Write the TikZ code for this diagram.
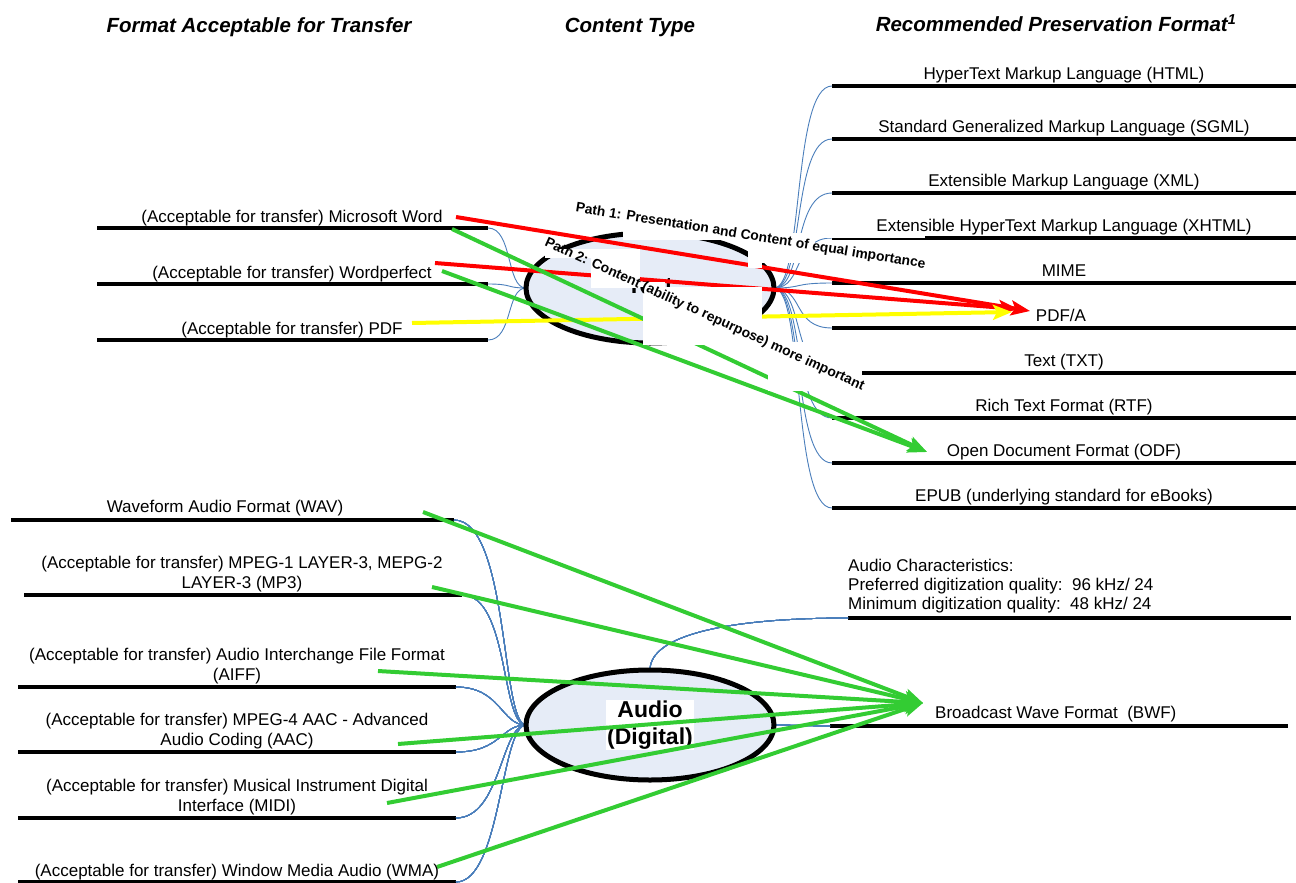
\documentclass[tikz,border=0pt]{standalone}
\usepackage{fontspec}
\setmainfont{Liberation Sans}
\usetikzlibrary{arrows.meta,shapes.geometric}
\definecolor{linkblue}{RGB}{74,126,187}
\definecolor{typefill}{RGB}{230,236,247}
\definecolor{pathgreen}{RGB}{51,204,51}
\definecolor{pathred}{RGB}{255,0,0}
\definecolor{pathyellow}{RGB}{255,255,0}
\def\bend(#1)(#2)(#3:#4){\draw[conn] (#1) .. controls +(#3,0) and +(#4,0) .. (#2);}

\begin{document}
\begin{tikzpicture}[x=1pt,y=-1pt,
		bar/.style={line width=4.5pt},
		conn/.style={draw=linkblue, line width=0.9pt},
		item/.style={font=\fontsize{17}{20}\selectfont, anchor=base, inner sep=0pt, align=center},
		hdr/.style={font=\fontsize{20.5}{24}\selectfont\bfseries\itshape, anchor=base, inner sep=0pt},
		ctype/.style={ellipse, draw, line width=5pt, fill=typefill, minimum width=248pt, minimum height=110pt, inner sep=0pt},
		pathlbl/.style={font=\fontsize{13.8}{16}\selectfont\bfseries, anchor=base, inner sep=0pt},
		route/.style={line width=4pt, -{Stealth[length=19pt,width=15pt,inset=4pt]}}]
			%%%%% START %%%%%
			\useasboundingbox (0,0) rectangle (1296,883);
			
			\node[hdr] (hdrfmt) at (259,33) {Format Acceptable for Transfer};
			\node[hdr] (hdrtype) at (630,33) {Content Type};
			\node[hdr] (hdrrec) at (1056,32) {Recommended Preservation Format\textsuperscript{1}};
			
			%%%%% TEXT: TRANSFER SIDE %%%%%
			\coordinate (wordL) at (97,228); \coordinate (wordR) at (488,228);
			\coordinate (wperfL) at (97,284); \coordinate (wperfR) at (488,284);
			\coordinate (pdfL) at (97,340); \coordinate (pdfR) at (488,340);
			\draw[bar] (wordL) -- (wordR);
			\draw[bar] (wperfL) -- (wperfR);
			\draw[bar] (pdfL) -- (pdfR);
			
			%%%%% TEXT: PRESERVATION SIDE %%%%%
			\foreach \nm/\y in {html/86, sgml/139, xml/193, xhtml/238, mime/283, pdfa/328, txt/373, rtf/418, odf/463, epub/508}{
				\coordinate (\nm L) at (832,\y);
				\draw[bar] (832,\y) -- (1296,\y);
			}
			
			%%%%% AUDIO: TRANSFER SIDE %%%%%
			\coordinate (wavL) at (11,520); \coordinate (wavR) at (454,520);
			\coordinate (mpthreeL) at (24,595); \coordinate (mpthreeR) at (462,595);
			\coordinate (aiffL) at (18,687); \coordinate (aiffR) at (456,687);
			\coordinate (aacL) at (18,752); \coordinate (aacR) at (456,752);
			\coordinate (midiL) at (18,818); \coordinate (midiR) at (456,818);
			\coordinate (wmaL) at (18,882); \coordinate (wmaR) at (456,882);
			\draw[bar] (wavL) -- (wavR);
			\draw[bar] (mpthreeL) -- (mpthreeR);
			\draw[bar] (aiffL) -- (aiffR);
			\draw[bar] (aacL) -- (aacR);
			\draw[bar] (midiL) -- (midiR);
			\draw[bar] (wmaL) -- (wmaR);
			
			%%%%% AUDIO: PRESERVATION SIDE %%%%%
			\coordinate (charsL) at (848,618); \coordinate (charsR) at (1291,618);
			\coordinate (bwfL) at (830,726); \coordinate (bwfR) at (1288,726);
			\draw[bar] (charsL) -- (charsR);
			\draw[bar] (bwfL) -- (bwfR);
			
			%%%%% CONNECTORS %%%%%
			\coordinate (textW) at (526,288); \coordinate (textE) at (774,288);
			\coordinate (audioW) at (526,725); \coordinate (audioE) at (774,725);
			\coordinate (audioN) at (650,670);
			\bend(wordR)(textW)(25:-20)
			\bend(wperfR)(textW)(25:-20)
			\bend(pdfR)(textW)(25:-20)
			\foreach \nm in {html, sgml, xml, xhtml, mime, pdfa, txt, rtf, odf, epub}
				\bend(textE)(\nm L)(30:-40)
			\bend(wavR)(audioW)(55:-25)
			\bend(mpthreeR)(audioW)(47:-25)
			\bend(aiffR)(audioW)(45:-25)
			\bend(aacR)(audioW)(45:-25)
			\bend(midiR)(audioW)(45:-25)
			\bend(wmaR)(audioW)(45:-25)
			\bend(audioE)(bwfL)(20:-20)
			\draw[conn] (audioN) .. controls +(0,-35) and +(-120,0) .. (charsL);
			
			%%%%% CONTENT TYPES %%%%%
			\node[ctype] (text) at (650,288) {};
			\node[font=\fontsize{23}{27}\selectfont\bfseries, anchor=base, inner sep=0pt] (textlbl) at (650,293) {Text};
			\node[ctype] (audio) at (650,725) {};
			\node[font=\fontsize{23}{27}\selectfont\bfseries, fill=white, inner sep=1pt, align=center] (audiolbl) at (650,725) {Audio\\(Digital)};
			
			%%%%% PATHS %%%%%
			\coordinate (redA) at (456,217); \coordinate (redB) at (435,263);
			\coordinate (yelA) at (412,323);
			\coordinate (grnA) at (452,229); \coordinate (grnB) at (442,271);
			\coordinate (pdfaTipA) at (1030,311); \coordinate (pdfaTipB) at (1018,309);
			\coordinate (pdfaTipC) at (1012,312);
			\coordinate (odfTip) at (927,452);
			\draw[route, pathred] (redA) -- (pdfaTipA);
			\draw[route, pathred] (redB) -- (pdfaTipB);
			\draw[route, pathyellow] (yelA) -- (pdfaTipC);
			\draw[route, pathgreen] (grnA) -- (odfTip);
			\draw[route, pathgreen] (grnB) -- (odfTip);
			
			\coordinate (bwfTip) at (923,703);
			\foreach \x/\y in {423/512, 432/587, 378/671, 398/744, 387/803, 437/867}
				\draw[route, pathgreen] (\x,\y) -- (bwfTip);
			
			%%%%% LABEL BACKGROUNDS %%%%%
			\fill[white] (623,211) rectangle (748,240);
			\fill[white] (748,233) rectangle (925,238);
			\fill[white] (748,237) rectangle (762,268);
			\fill[white] (762,237) rectangle (815,263);
			\fill[white] (545,249) rectangle (640,258);
			\fill[white] (591,258) rectangle (640,288);
			\fill[white] (640,282) rectangle (665,287);
			\fill[white] (643,287) rectangle (762,345);
			\fill[white] (768,342) rectangle (862,391);
			
			%%%%% LABELS %%%%%
			\node[item] (word) at (292,222) {(Acceptable for transfer) Microsoft Word};
			\node[item] (wperf) at (292,278) {(Acceptable for transfer) Wordperfect};
			\node[item] (pdf) at (292,334) {(Acceptable for transfer) PDF};
			
			\node[item] (html) at (1064,79) {HyperText Markup Language (HTML)};
			\node[item] (sgml) at (1064,132) {Standard Generalized Markup Language (SGML)};
			\node[item] (xml) at (1064,186) {Extensible Markup Language (XML)};
			\node[item] (xhtml) at (1064,231) {Extensible HyperText Markup Language (XHTML)};
			\node[item] (mime) at (1064,276) {MIME};
			\node[item] (pdfa) at (1061,321) {PDF/A};
			\node[item] (txt) at (1064,366) {Text (TXT)};
			\node[item] (rtf) at (1064,411) {Rich Text Format (RTF)};
			\node[item] (odf) at (1064,456) {Open Document Format (ODF)};
			\node[item] (epub) at (1064,501) {EPUB (underlying standard for eBooks)};
			
			\node[item] (wav) at (225,512) {Waveform Audio Format (WAV)};
			\node[item] (mpthree) at (242,588) {(Acceptable for transfer) MPEG-1 LAYER-3, MEPG-2\\LAYER-3 (MP3)};
			\node[item] (aiff) at (237,680) {(Acceptable for transfer) Audio Interchange File Format\\(AIFF)};
			\node[item] (aac) at (237,745) {(Acceptable for transfer) MPEG-4 AAC - Advanced\\Audio Coding (AAC)};
			\node[item] (midi) at (237,811) {(Acceptable for transfer) Musical Instrument Digital\\Interface (MIDI)};
			\node[item] (wma) at (237,876) {(Acceptable for transfer) Window Media Audio (WMA)};
			
			\node[item, anchor=base west, align=left, font=\fontsize{17}{19}\selectfont] (chars) at (848,609) {Audio Characteristics:\\Preferred digitization quality:\ \ 96 kHz/ 24\\Minimum digitization quality:\ \ 48 kHz/ 24};
			\node[item, anchor=base west] (bwf) at (935,718) {Broadcast Wave Format\ \ (BWF)};
			
			\node[pathlbl, rotate=-9.2] (pathone) at (750,240) {Path 1: Presentation and Content of equal importance};
			\node[pathlbl, rotate=-24.5] (pathtwo) at (703,318) {Path 2: Content (ability to repurpose) more important};
			%%%%% END %%%%%
		\end{tikzpicture}
\end{document}
